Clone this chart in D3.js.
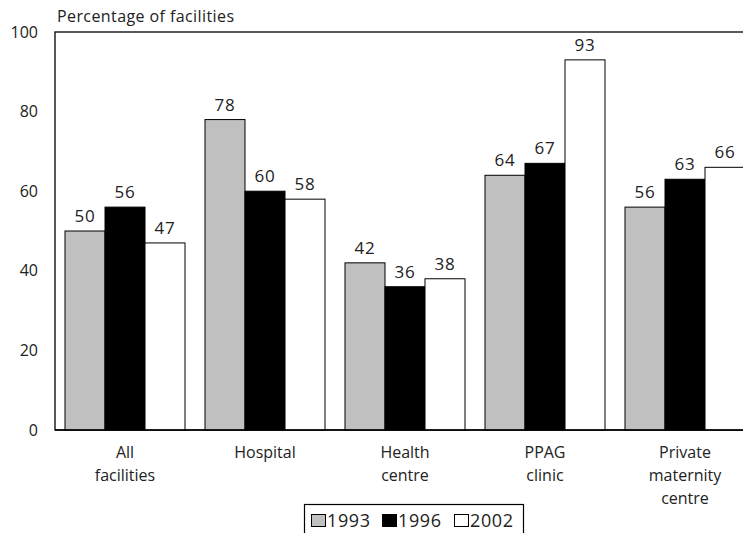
<!DOCTYPE html>
<html>
<head>
<meta charset="utf-8">
<script src="https://cdn.jsdelivr.net/npm/d3@7"></script>
<style>
  html, body { margin: 0; padding: 0; background: #fff; }
  svg { display: block; }
  text { font-family: "Open Sans", "Lato", sans-serif; fill: #222; }
</style>
</head>
<body>
<svg id="chart" width="743" height="533"></svg>
<script>
// Facility categories (multi-line labels) and survey years
const categories = [
  ["All", "facilities"],
  ["Hospital"],
  ["Health", "centre"],
  ["PPAG", "clinic"],
  ["Private", "maternity", "centre"]
];
const years = ["1993", "1996", "2002"];
const values1993 = [50, 78, 42, 64, 56];
const values1996 = [56, 60, 36, 67, 63];
const values2002 = [47, 58, 38, 93, 66];
const yTicks = [0, 20, 40, 60, 80, 100];
const yTitle = "Percentage of facilities";

const seriesValues = [values1993, values1996, values2002];
const fills = ["#c0c0c0", "#000000", "#ffffff"];

const svg = d3.select("#chart");
const margin = { left: 55, top: 32 };
const plotW = 700, plotH = 398;

const x0 = d3.scaleBand()
  .domain(d3.range(categories.length))
  .range([margin.left, margin.left + plotW])
  .paddingInner(20 / 140)
  .paddingOuter(10 / 140);
const x1 = d3.scaleBand()
  .domain(years)
  .range([0, x0.bandwidth()]);
const y = d3.scaleLinear().domain([0, 100]).range([margin.top + plotH, margin.top]);

// Plot frame
svg.append("rect")
  .attr("x", margin.left).attr("y", margin.top)
  .attr("width", plotW).attr("height", plotH)
  .attr("fill", "none").attr("stroke", "#000").attr("stroke-width", 1.3);

// Y axis labels
const yAxis = d3.axisLeft(y).tickValues(yTicks).tickSize(0).tickPadding(17);
const gy = svg.append("g").attr("transform", `translate(${margin.left},0)`).call(yAxis);
gy.select(".domain").remove();
gy.selectAll("text").attr("font-size", 16).style("font-family", '"Open Sans", "Lato", sans-serif').attr("fill", "#222");

svg.append("text")
  .attr("x", 57).attr("y", 22)
  .attr("font-size", 16)
  .attr("textLength", 177)
  .text(yTitle);

// Bars
const rows = [];
categories.forEach((c, i) => {
  years.forEach((yr, j) => rows.push({ i, yr, j, v: seriesValues[j][i] }));
});

svg.append("g").selectAll("rect")
  .data(rows).join("rect")
  .attr("x", d => x0(d.i) + x1(d.yr))
  .attr("y", d => y(d.v))
  .attr("width", x1.bandwidth())
  .attr("height", d => y(0) - y(d.v))
  .attr("fill", d => fills[d.j])
  .attr("stroke", "#000")
  .attr("stroke-width", 1);

// Value labels
svg.append("g").selectAll("text")
  .data(rows).join("text")
  .attr("x", d => x0(d.i) + x1(d.yr) + x1.bandwidth() / 2)
  .attr("y", d => y(d.v) - 9)
  .attr("text-anchor", "middle")
  .attr("font-size", 17)
  .attr("letter-spacing", 0.8)
  .text(d => d.v);

// Redraw baseline over bars
svg.append("line")
  .attr("x1", margin.left).attr("x2", margin.left + plotW)
  .attr("y1", y(0)).attr("y2", y(0))
  .attr("stroke", "#000").attr("stroke-width", 1.3);

// Category labels
const gx = svg.append("g");
categories.forEach((lines, i) => {
  const t = gx.append("text")
    .attr("x", x0(i) + x0.bandwidth() / 2)
    .attr("y", 458)
    .attr("text-anchor", "middle")
    .attr("font-size", 16);
  lines.forEach((ln, k) => {
    t.append("tspan")
      .attr("x", x0(i) + x0.bandwidth() / 2)
      .attr("dy", k === 0 ? 0 : 23)
      .text(ln);
  });
});

// Legend
const lg = svg.append("g");
lg.append("rect")
  .attr("x", 304.5).attr("y", 504.5)
  .attr("width", 219).attr("height", 40)
  .attr("fill", "#fff").attr("stroke", "#000").attr("stroke-width", 1.2);
const legendX = [311, 382, 454];
years.forEach((yr, j) => {
  lg.append("rect")
    .attr("x", legendX[j] + 0.5).attr("y", 514.5)
    .attr("width", 14).attr("height", 12)
    .attr("fill", fills[j]).attr("stroke", "#000").attr("stroke-width", 1);
  lg.append("text")
    .attr("x", legendX[j] + 16).attr("y", 527)
    .attr("font-size", 18)
    .attr("letter-spacing", 0.6)
    .text(yr);
});
</script>
</body>
</html>
